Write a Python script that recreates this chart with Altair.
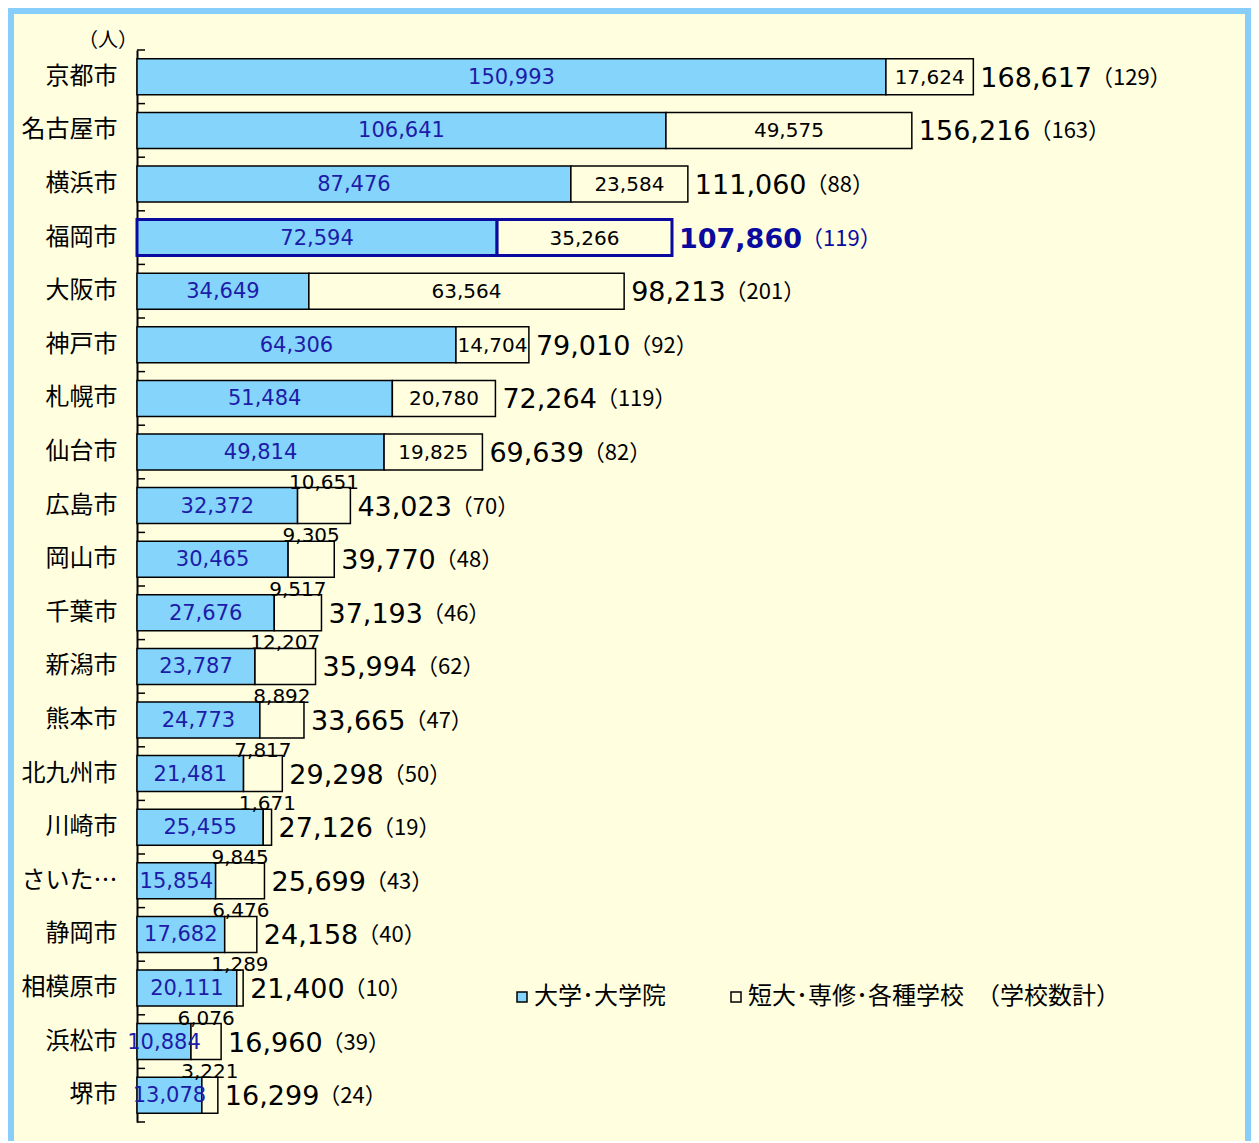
import altair as alt
import pandas as pd

cities = ["京都市", "名古屋市", "横浜市", "福岡市", "大阪市", "神戸市", "札幌市", "仙台市",
          "広島市", "岡山市", "千葉市", "新潟市", "熊本市", "北九州市", "川崎市", "さいたま市",
          "静岡市", "相模原市", "浜松市", "堺市"]
univ = [150993, 106641, 87476, 72594, 34649, 64306, 51484, 49814, 32372, 30465,
        27676, 23787, 24773, 21481, 25455, 15854, 17682, 20111, 10884, 13078]
other = [17624, 49575, 23584, 35266, 63564, 14704, 20780, 19825, 10651, 9305,
         9517, 12207, 8892, 7817, 1671, 9845, 6476, 1289, 6076, 3221]
totals = [168617, 156216, 111060, 107860, 98213, 79010, 72264, 69639, 43023, 39770,
          37193, 35994, 33665, 29298, 27126, 25699, 24158, 21400, 16960, 16299]
schools = [129, 163, 88, 119, 201, 92, 119, 82, 70, 48, 46, 62, 47, 50, 19, 43, 40, 10, 39, 24]

seg_names = ["大学･大学院", "短大･専修･各種学校"]
HIGHLIGHT = "福岡市"

W, H = 992, 1072
XMAX = 200000
PX = W / XMAX
BLUE = "#85D4FC"
BG = "#FFFFE0"
DARK = "#0A0A9E"
LBLUE = "#1C1CA8"
FRAME = "#87CEFA"
NUMFONT = "DejaVu Sans"
JPFONT = "Noto Sans CJK JP"
PAD_B = 19

# long table for the stacked bars
rows = []
for c, u, o in zip(cities, univ, other):
    rows.append({"city": c, "seg": seg_names[0], "idx": 0, "value": u})
    rows.append({"city": c, "seg": seg_names[1], "idx": 1, "value": o})
long_df = pd.DataFrame(rows)


def text_w(s, size, bold=False):
    d = 0.696 if bold else 0.636
    cm = 0.38 if bold else 0.318
    return sum(size * (d if ch.isdigit() else cm) for ch in s)


TOT_SIZE = 27
wide = pd.DataFrame({"city": cities, "univ": univ, "other": other,
                     "total": totals, "schools": schools})
wide["umid"] = wide["univ"] / 2
wide["omid"] = wide["univ"] + wide["other"] / 2
wide["tlabel"] = [f"{t:,}" for t in totals]
wide["clabel"] = [f"（{s}）" for s in schools]
wide["cx"] = [t + (8 + text_w(f"{t:,}", TOT_SIZE, c == HIGHLIGHT) - 2) / PX
              for t, c in zip(totals, cities)]
wide["inside"] = wide["other"] >= 14000

yscale = alt.Scale(domain=cities, type="band", paddingInner=0, paddingOuter=0)
yaxis = alt.Axis(labelFont=JPFONT, labelFontSize=24, labelColor="black", labelPadding=20,
                 ticks=False, domainColor="black", domainWidth=2, labelLimit=100,
                 grid=False, title=None)
xscale = alt.Scale(domain=[0, XMAX], nice=False, zero=True)


def Y(**kw):
    return alt.Y("city:N", scale=yscale, axis=yaxis, title=None, **kw)


is_hl = alt.datum.city == HIGHLIGHT

bars = alt.Chart(long_df).mark_bar(size=36).encode(
    y=Y(),
    x=alt.X("value:Q", stack="zero", scale=xscale, axis=None),
    order=alt.Order("idx:Q"),
    color=alt.Color("seg:N", scale=alt.Scale(domain=seg_names, range=[BLUE, BG]),
                    legend=alt.Legend(orient="none", legendX=373, legendY=935,
                                      direction="horizontal", columnPadding=58,
                                      symbolType="square", symbolSize=100,
                                      symbolStrokeColor="black", symbolStrokeWidth=1.5,
                                      labelFont=JPFONT, labelFontSize=24, labelColor="black",
                                      labelLimit=400, labelOffset=0,
                                      title="（学校数計）", titleOrient="right",
                                      titleFont=JPFONT, titleFontSize=24,
                                      titleFontWeight="normal", titleColor="black",
                                      titlePadding=12, padding=0)),
    stroke=alt.condition(is_hl, alt.value(DARK), alt.value("black")),
    strokeWidth=alt.condition(is_hl, alt.value(3), alt.value(1.5)),
)

base = alt.Chart(wide)

ticks_top = base.mark_rule(color="black", strokeWidth=1.5).encode(
    y=Y(bandPosition=0), x=alt.value(0), x2=alt.value(8))
ticks_end = base.transform_filter(alt.datum.city == cities[-1]).mark_rule(
    color="black", strokeWidth=1.5).encode(
    y=Y(bandPosition=1), x=alt.value(0), x2=alt.value(8))

ulab = base.mark_text(font=NUMFONT, fontSize=21, color=LBLUE, align="center",
                      baseline="middle", dy=1).encode(
    y=Y(), x=alt.X("umid:Q", scale=xscale, axis=None),
    text=alt.Text("univ:Q", format=","))

olab_in = base.transform_filter(alt.datum.inside).mark_text(
    font=NUMFONT, fontSize=20, color="black", align="center", baseline="middle", dy=1).encode(
    y=Y(), x=alt.X("omid:Q", scale=xscale, axis=None),
    text=alt.Text("other:Q", format=","))

olab_out = base.transform_filter(~alt.datum.inside).mark_text(
    font=NUMFONT, fontSize=20, color="black", align="center", baseline="alphabetic",
    dy=-17).encode(
    y=Y(), x=alt.X("omid:Q", scale=xscale, axis=None),
    text=alt.Text("other:Q", format=","))

tot = base.transform_filter(alt.datum.city != HIGHLIGHT).mark_text(
    font=NUMFONT, fontSize=TOT_SIZE, color="black", align="left", baseline="middle",
    dx=7, dy=2).encode(
    y=Y(), x=alt.X("total:Q", scale=xscale, axis=None), text="tlabel:N")

tot_hl = base.transform_filter(alt.datum.city == HIGHLIGHT).mark_text(
    font=NUMFONT, fontSize=TOT_SIZE, fontWeight="bold", color=DARK, align="left",
    baseline="middle", dx=7, dy=2).encode(
    y=Y(), x=alt.X("total:Q", scale=xscale, axis=None), text="tlabel:N")

cnt = base.mark_text(font=JPFONT, fontSize=22, align="left",
                     baseline="middle", dy=1).encode(
    y=Y(), x=alt.X("cx:Q", scale=xscale, axis=None), text="clabel:N",
    color=alt.condition(is_hl, alt.value(DARK), alt.value("black")))

one = alt.Chart(wide).transform_filter(alt.datum.city == cities[0])

unit = one.mark_text(
    text="（人）", font=JPFONT, fontSize=20, color="black", align="right",
    baseline="middle").encode(x=alt.value(1), y=alt.value(-9))

frame_left = one.mark_rule(color=FRAME, strokeWidth=6).encode(
    x=alt.value(-126), y=alt.value(-42), y2=alt.value(H + PAD_B))
frame_right = one.mark_rule(color=FRAME, strokeWidth=6).encode(
    x=alt.value(W + 122 - 3), y=alt.value(-42), y2=alt.value(H + PAD_B))
frame_top = one.mark_rule(color=FRAME, strokeWidth=6).encode(
    y=alt.value(-39), x=alt.value(-129), x2=alt.value(W + 122))

chart = alt.layer(frame_left, frame_right, frame_top, bars, ticks_top, ticks_end, ulab,
                  olab_in, olab_out, tot, tot_hl, cnt, unit).properties(
    width=W, height=H,
    autosize=alt.AutoSizeParams(type="none"),
    padding={"left": 129, "top": 42, "right": 122, "bottom": PAD_B},
    background=BG,
).configure_view(stroke="transparent")

chart.save("out.html", embed_options={"renderer": "svg", "actions": False})
